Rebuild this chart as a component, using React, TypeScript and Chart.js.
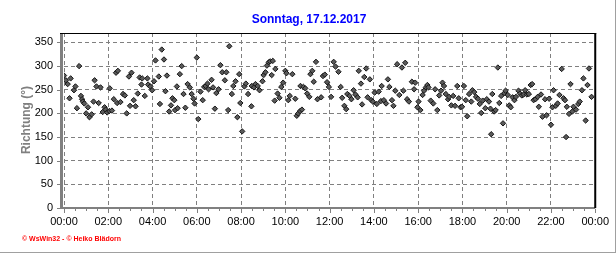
import React, { useEffect, useRef } from "react";
import { Chart, registerables } from "chart.js";

Chart.register(...registerables);

const TITLE = "Sonntag, 17.12.2017";
const Y_LABEL = "Richtung (°)";
const FOOTER = "© WsWin32 - © Heiko Blädorn";
const X_TICK_LABELS = ["00:00", "02:00", "04:00", "06:00", "08:00", "10:00", "12:00", "14:00", "16:00", "18:00", "20:00", "22:00", "00:00"];
const Y_TICKS = [0, 50, 100, 150, 200, 250, 300, 350];

// minutes after midnight
const MINUTES = [
  0, 5, 10, 15, 18, 27, 31, 35, 41, 46, 49, 51, 55, 60, 65, 69, 75, 80, 83, 88, 94, 99, 105, 110, 113, 117, 123, 124, 130, 135,
  141, 144, 146, 153, 160, 165, 170, 176, 179, 183, 189, 194, 200, 205, 210, 212, 219, 226, 228, 234, 239, 244, 248, 257, 260, 265,
  271, 275, 279, 285, 290, 294, 299, 301, 306, 308, 314, 319, 324, 329, 335, 341, 346, 351, 354, 360, 364, 370, 376, 380, 384, 389,
  392, 400, 404, 409, 413, 419, 424, 429, 436, 440, 445, 448, 455, 459, 465, 470, 475, 478, 483, 489, 493, 499, 508, 509, 515, 519,
  525, 530, 538, 541, 546, 550, 555, 559, 563, 566, 571, 573, 579, 584, 589, 594, 600, 603, 608, 612, 619, 627, 631, 635, 640, 641,
  645, 649, 654, 659, 665, 668, 673, 677, 683, 687,
  697, 702, 707, 713, 718, 724, 731, 736, 744, 750, 754, 760, 765, 768, 774, 779, 785, 790, 796, 799, 805, 808, 814, 819, 823, 829,
  833, 837, 842, 848, 853, 859, 861, 867, 873, 878, 882, 889, 893, 898, 903, 909, 916, 920, 925, 930, 935, 943, 949, 952, 958, 961,
  966, 972, 976, 981, 985, 988, 994, 1001, 1006, 1012, 1017, 1022, 1026, 1030, 1035, 1041, 1044, 1050, 1055, 1060, 1066, 1070, 1075,
  1079, 1084, 1089, 1093, 1098, 1104, 1107, 1112, 1117, 1122, 1127, 1131, 1135, 1142, 1146, 1152, 1156, 1158, 1161, 1166, 1170, 1176,
  1180, 1185, 1190, 1194, 1197, 1203, 1207, 1211, 1216, 1221, 1225, 1232, 1236, 1241, 1246, 1250, 1255, 1260, 1265, 1269, 1273, 1278,
  1284, 1287, 1293, 1297, 1304, 1308, 1315, 1320, 1324, 1327, 1333, 1338, 1343, 1349, 1354, 1358, 1361, 1363, 1369, 1373, 1378, 1381,
  1388, 1394, 1398, 1404, 1408, 1414, 1419, 1423, 1430,
];

// wind direction in degrees
const DIRECTION = [
  280, 270, 262, 232, 274, 249, 257, 211, 300, 237, 230, 225, 221, 200, 213, 192, 198, 225, 270, 257, 222, 255, 203, 213, 208, 202, 205, 253, 206, 230,
  286, 222, 290, 224, 241, 238, 200, 278, 216, 286, 228, 215, 242, 276, 261, 274, 237, 274, 261, 257, 249, 268, 312, 278, 220, 335,
  314, 247, 280, 204, 217, 232, 228, 207, 257, 211, 283, 300, 241, 212, 262, 255, 241, 231, 221, 318, 188, 246, 228, 256, 258, 263,
  251, 271, 255, 210, 243, 251, 302, 287, 270, 287, 207, 342, 241, 258, 268, 192, 283, 222, 162, 257, 263, 241, 215, 258, 255, 262,
  258, 249, 268, 281, 287, 301, 308, 310, 281, 311, 227, 294, 242, 233, 256, 265, 290, 285, 228, 237, 283, 231, 195, 200, 205, 258,
  208, 256, 253, 242, 235, 283, 290, 267, 309, 230,
  234, 279, 282, 266, 256, 235, 309, 299, 288, 256, 233, 216, 209, 241, 237, 230, 249, 240, 234, 290, 263, 219, 277, 295, 234, 272,
  228, 225, 244, 220, 246, 226, 258, 228, 221, 272, 256, 228, 216, 248, 304, 239, 297, 248, 307, 230, 225, 267, 251, 265, 213, 225,
  207, 239, 248, 255, 260, 255, 227, 221, 251, 207, 238, 248, 265, 258, 241, 230, 235, 217, 237, 216, 258, 232, 213,
  214, 258, 228, 194, 241, 225, 249, 245, 235, 231, 220, 201, 227, 211, 230, 225, 210, 156, 241, 204, 207, 297,
  222, 237, 179, 243, 248, 239, 217, 213, 234, 228, 235, 248, 242, 238, 240, 249, 240, 241, 260, 262, 228, 230,
  235, 214, 240, 193, 230, 196, 231, 176, 213, 249, 216, 221, 239, 294, 232, 228, 150, 214, 199, 262, 204, 214,
  208, 220, 225, 249, 274, 185, 260, 295, 235,
];

const FONT = "'Liberation Sans', Arial, sans-serif";

const framePlugin = {
  id: "wswinFrame",
  beforeDatasetsDraw(chart: any) {
    const { ctx, chartArea: a, scales } = chart;
    const xs = scales.x;
    const ys = scales.y;
    ctx.save();
    ctx.fillStyle = "#808080";
    ctx.fillRect(a.left - 4, a.top, 3, a.bottom - a.top + 1);
    ctx.fillRect(a.left - 4, a.bottom - 1, a.right - a.left + 4, 2);
    for (let v = 0; v <= 1440; v += 30) {
      const px = Math.round(xs.getPixelForValue(v));
      const len = v % 120 === 0 ? 4 : 2;
      ctx.fillRect(px, a.bottom + 1, 1, len);
    }
    Y_TICKS.forEach((v) => {
      const py = Math.round(ys.getPixelForValue(v));
      ctx.fillRect(a.left - 7, py, 3, 1);
    });
    ctx.fillStyle = "#000000";
    ctx.fillRect(a.left - 4, a.top, a.right - a.left + 5, 1);
    ctx.fillRect(a.right - 1, a.top, 2, a.bottom - a.top);
    ctx.restore();
  },
  afterDraw(chart: any) {
    const { ctx, width, height } = chart;
    ctx.save();
    ctx.fillStyle = "#a0a0a0";
    ctx.fillRect(width - 1, 0, 1, height);
    ctx.fillRect(0, height - 1, width, 1);
    ctx.fillStyle = "#0000ff";
    ctx.font = `bold 12px ${FONT}`;
    ctx.textAlign = "center";
    ctx.textBaseline = "alphabetic";
    ctx.fillText(TITLE, 309, 23);
    ctx.save();
    ctx.translate(27, 120);
    ctx.rotate(-Math.PI / 2);
    ctx.fillStyle = "#808080";
    ctx.font = `bold 12px ${FONT}`;
    ctx.textAlign = "center";
    ctx.textBaseline = "middle";
    ctx.fillText(Y_LABEL, 0, 0);
    ctx.restore();
    ctx.fillStyle = "#ff0000";
    ctx.font = `bold 7px ${FONT}`;
    ctx.textAlign = "left";
    ctx.textBaseline = "alphabetic";
    ctx.fillText(FOOTER, 22, 241);
    ctx.restore();
  },
};

export default function App() {
  const ref = useRef<HTMLCanvasElement | null>(null);

  useEffect(() => {
    if (!ref.current) return;
    const chart = new Chart(ref.current, {
      type: "scatter",
      data: {
        datasets: [
          {
            data: MINUTES.map((m, i) => ({ x: m, y: DIRECTION[i] })),
            pointStyle: "rectRot",
            pointRadius: 2.7,
            backgroundColor: "#5a5a5a",
            borderColor: "#151515",
            borderWidth: 1,
            showLine: false,
          },
        ],
      },
      options: {
        animation: false,
        responsive: false,
        layout: { padding: { left: 0, right: 19, top: 33, bottom: 0 } },
        plugins: {
          legend: { display: false },
          tooltip: { enabled: false },
          title: { display: false },
        },
        scales: {
          x: {
            type: "linear",
            min: 0,
            max: 1440,
            afterBuildTicks: (s: any) => {
              s.ticks = X_TICK_LABELS.map((_, i) => ({ value: i * 120 }));
            },
            afterFit: (s: any) => {
              s.height = 45;
            },
            ticks: {
              callback: (_v: any, i: number) => X_TICK_LABELS[i],
              font: { family: FONT, size: 11 },
              color: "#000000",
              padding: 7,
              maxRotation: 0,
              autoSkip: false,
            },
            grid: { color: "#808080", lineWidth: 1, drawTicks: false },
            border: { display: false, dash: [4, 3] },
          },
          y: {
            type: "linear",
            min: 0,
            max: 370,
            afterBuildTicks: (s: any) => {
              s.ticks = Y_TICKS.map((v) => ({ value: v }));
            },
            afterFit: (s: any) => {
              s.width = 64;
            },
            ticks: {
              font: { family: FONT, size: 11 },
              color: "#000000",
              padding: 11,
            },
            grid: { color: "#808080", lineWidth: 1, drawTicks: false },
            border: { display: false, dash: [4, 3] },
          },
        },
      },
      plugins: [framePlugin],
    });
    return () => chart.destroy();
  }, []);

  return (
    <div style={{ position: "absolute", left: 0, top: 0, width: 616, height: 253 }}>
      <canvas ref={ref} width={616} height={253} style={{ display: "block" }} />
    </div>
  );
}
